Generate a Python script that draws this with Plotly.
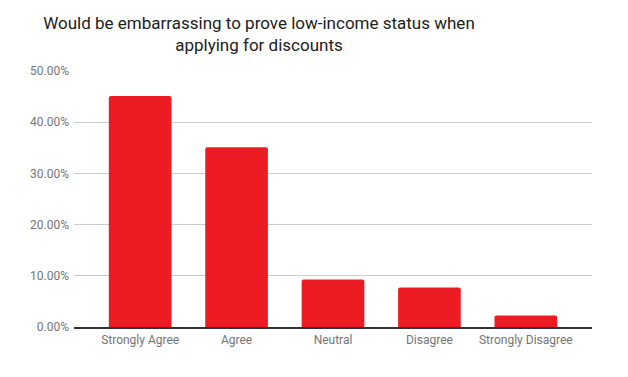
import plotly.graph_objects as go

categories = ["Strongly Agree", "Agree", "Neutral", "Disagree", "Strongly Disagree"]
values = [0.451, 0.351, 0.0926, 0.077, 0.0224]
y_ticks = [0, 0.1, 0.2, 0.3, 0.4, 0.5]

W, H = 620, 369

fig = go.Figure(go.Bar(
    x=list(range(len(categories))), y=values,
    marker=dict(color="#ED1C24", cornerradius=2, line=dict(width=0)),
    width=0.65, hoverinfo="skip",
))

fig.update_layout(
    width=W, height=H,
    margin=dict(l=66, r=36, t=63, b=49.5),
    paper_bgcolor="white", plot_bgcolor="white",
    font=dict(family="Roboto", color="#757575", size=12),
    title=dict(
        text="Would be embarrassing to prove low-income status when<br>applying for discounts",
        font=dict(family="Roboto", size=17, color="#212121"),
        x=251 / W, xanchor="center", xref="container",
        y=1 - 21 / H, yanchor="middle", yref="container",
    ),
    showlegend=False,
)
fig.update_xaxes(
    tickmode="array", tickvals=list(range(len(categories))), ticktext=categories,
    range=[-0.686, 4.686], showgrid=False, zeroline=False,
    showline=True, linecolor="#333333", linewidth=1.5,
    ticks="", ticklabelstandoff=1, tickfont=dict(size=12, color="#757575"),
)
fig.update_yaxes(
    range=[0, 0.5], tickmode="array", tickvals=y_ticks, tickformat=".2%",
    showgrid=True, gridcolor="#CCCCCC", gridwidth=1, zeroline=False,
    showline=False, ticks="", ticklabelstandoff=4,
    tickfont=dict(size=12, color="#757575"),
)

fig.write_html("out.html")
